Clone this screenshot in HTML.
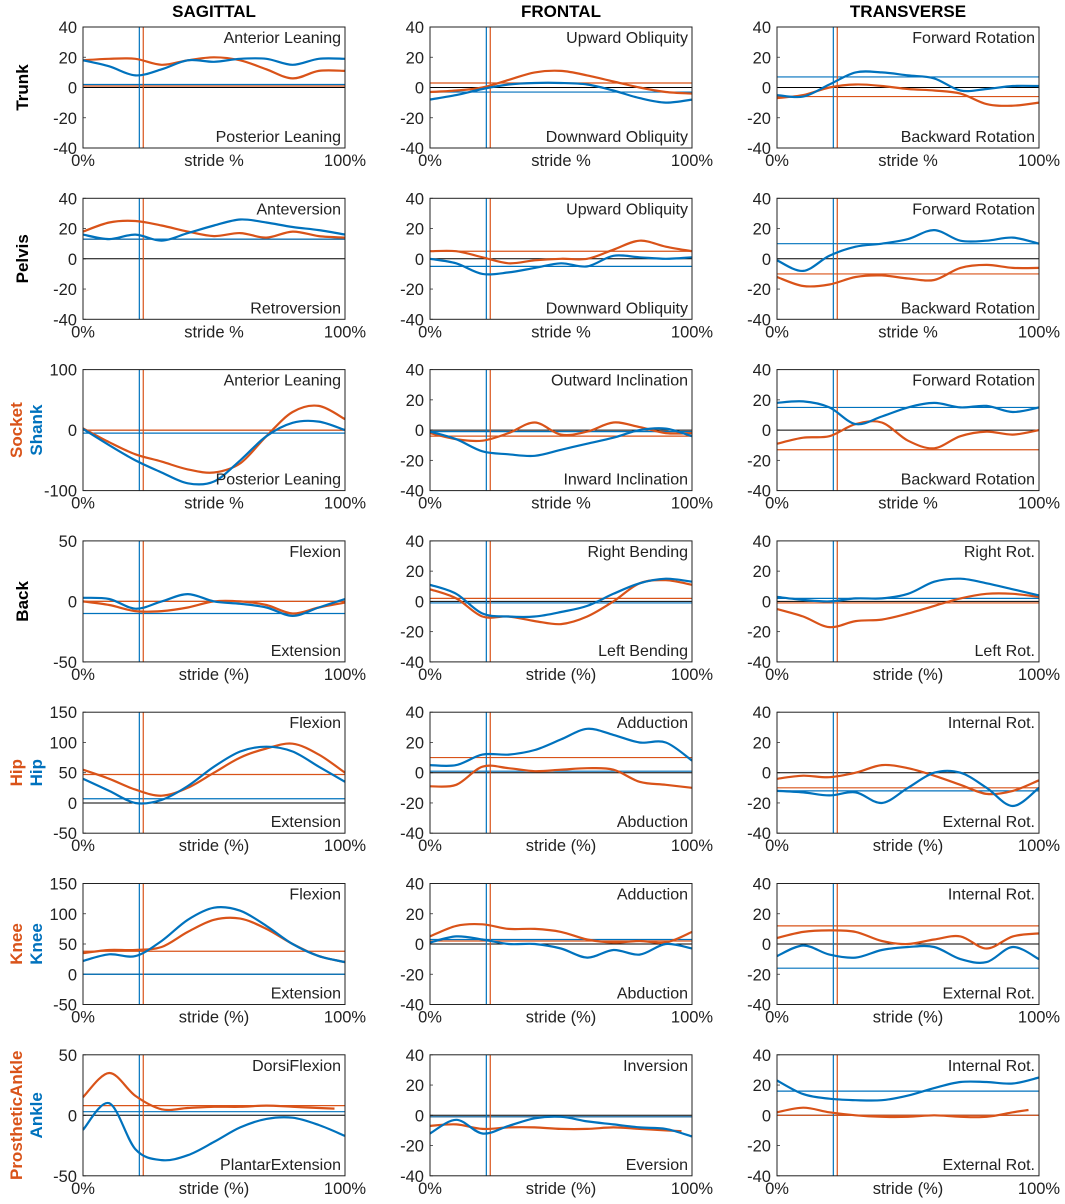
<!DOCTYPE html>
<html><head><meta charset="utf-8"><style>
html,body{margin:0;padding:0;background:#fff;}
svg{display:block;font-family:"Liberation Sans",Arial,sans-serif;}
</style></head><body>
<svg id="fig" width="1065" height="1204" viewBox="0 0 1065 1204" xmlns="http://www.w3.org/2000/svg"></svg>
<script>
const stridePct=[0,10,20,30,40,50,60,70,80,90,100];
const colHeaders=["SAGITTAL","FRONTAL","TRANSVERSE"];
const eventPct=[21.5,23];
// row 1 trunk
const trunkSagRed=[18,19,19,15,18,20,18,12,6,11,11];
const trunkSagBlue=[18,14,8,12,18,17,19,19,15,19,19];
const trunkFroRed=[-3,-2,0,5,10,11,8,4,0,-3,-4];
const trunkFroBlue=[-8,-5,-1,2,3,3,2,-2,-7,-10,-8];
const trunkTraRed=[-7,-5,0,2,1,-1,-2,-4,-11,-12,-10];
const trunkTraBlue=[-5,-6,2,10,10,8,6,-2,-1,1,1];
// row 2 pelvis
const pelvisSagRed=[18,24,25,22,18,15,17,14,18,15,14];
const pelvisSagBlue=[16,13,16,12,17,22,26,24,21,19,16];
const pelvisFroRed=[5,5,1,-3,-1,0,0,6,12,8,5];
const pelvisFroBlue=[0,-3,-10,-9,-6,-3,-5,2,1,0,1];
const pelvisTraRed=[-12,-18,-17,-12,-11,-13,-14,-6,-4,-6,-6];
const pelvisTraBlue=[-1,-8,2,8,10,13,19,12,12,14,10];
// row 3 socket/shank
const shankSagRed=[3,-20,-40,-52,-65,-70,-55,-10,30,40,18];
const shankSagBlue=[2,-25,-50,-70,-88,-85,-50,-10,12,14,0];
const shankFroRed=[-2,-6,-7,-2,5,-3,-1,5,2,-2,-2];
const shankFroBlue=[-1,-6,-14,-16,-17,-13,-9,-5,0,1,-4];
const shankTraRed=[-9,-5,-4,4,5,-7,-12,-4,-1,-3,0];
const shankTraBlue=[18,19,15,4,9,15,18,15,16,12,15];
// row 4 back
const backSagRed=[0,-3,-8,-8,-5,0,0,-3,-10,-5,-1];
const backSagBlue=[3,2,-6,0,6,0,-2,-5,-12,-5,2];
const backFroRed=[8,2,-10,-10,-13,-15,-10,0,12,14,11];
const backFroBlue=[11,5,-8,-10,-10,-7,-3,5,12,15,13];
const backTraRed=[-5,-10,-17,-13,-12,-8,-3,2,5,5,3];
const backTraBlue=[3,1,0,2,2,5,13,15,12,8,4];
// row 5 hip
const hipSagRed=[55,40,22,12,25,50,75,90,98,80,50];
const hipSagBlue=[40,20,0,5,28,60,85,93,85,60,35];
const hipFroRed=[-9,-8,4,3,1,2,3,2,-6,-8,-10];
const hipFroBlue=[5,5,12,12,15,22,29,25,20,20,8];
const hipTraRed=[-4,-2,-3,0,5,3,-2,-8,-14,-12,-5];
const hipTraBlue=[-12,-13,-15,-13,-20,-10,0,0,-10,-22,-10];
// row 6 knee
const kneeSagRed=[35,40,40,45,70,90,92,75,50,30,20];
const kneeSagBlue=[22,33,30,55,90,110,105,80,50,30,20];
const kneeFroRed=[5,12,13,10,10,8,3,1,2,1,8];
const kneeFroBlue=[1,5,3,0,0,-3,-9,-4,-7,0,-3];
const kneeTraRed=[4,8,9,8,2,0,3,5,-3,5,7];
const kneeTraBlue=[-8,-1,-7,-9,-4,-2,-2,-10,-12,-2,-10];
// row 7 ankle
const ankleSagRed=[15,35,16,5,6,7,7,8,7,6,null];
const ankleSagBlue=[-12,10,-28,-37,-33,-22,-10,-3,-2,-8,-17];
const ankleFroRed=[-7,-6,-9,-8,-8,-9,-9,-8,-9,-10,null];
const ankleFroBlue=[-12,-3,-12,-7,-2,-1,-4,-6,-8,-9,-14];
const ankleTraRed=[2,5,2,0,-1,-1,0,-1,-1,2,null];
const ankleTraBlue=[23,14,11,10,10,13,18,22,22,21,25];
// mean reference lines [red, blue]
const meanLines=[
 [[1,2],[3,-3],[-6,7]],
 [[13,13],[5,-5],[-10,10]],
 [[0,-5],[-4,-1],[-13,15]],
 [[0,-10],[2,-1],[-1,2]],
 [[47,7],[10,1],[-10,-12]],
 [[38,0],[2,3],[12,-16]],
 [[8,3],[-1,-1],[0,16]]
];
const series=[
 [[trunkSagRed,trunkSagBlue],[trunkFroRed,trunkFroBlue],[trunkTraRed,trunkTraBlue]],
 [[pelvisSagRed,pelvisSagBlue],[pelvisFroRed,pelvisFroBlue],[pelvisTraRed,pelvisTraBlue]],
 [[shankSagRed,shankSagBlue],[shankFroRed,shankFroBlue],[shankTraRed,shankTraBlue]],
 [[backSagRed,backSagBlue],[backFroRed,backFroBlue],[backTraRed,backTraBlue]],
 [[hipSagRed,hipSagBlue],[hipFroRed,hipFroBlue],[hipTraRed,hipTraBlue]],
 [[kneeSagRed,kneeSagBlue],[kneeFroRed,kneeFroBlue],[kneeTraRed,kneeTraBlue]],
 [[ankleSagRed,ankleSagBlue],[ankleFroRed,ankleFroBlue],[ankleTraRed,ankleTraBlue]]
];
const T40=[-40,-20,0,20,40];
const yTicks=[
 [T40,T40,T40],[T40,T40,T40],[[-100,0,100],T40,T40],[[-50,0,50],T40,T40],
 [[-50,0,50,100,150],T40,T40],[[-50,0,50,100,150],T40,T40],[[-50,0,50],T40,T40]
];
const rowLabels=[["Trunk"],["Pelvis"],["Socket","Shank"],["Back"],["Hip","Hip"],["Knee","Knee"],["ProstheticAnkle","Ankle"]];
const topNotes=[
 ["Anterior Leaning","Upward Obliquity","Forward Rotation"],
 ["Anteversion","Upward Obliquity","Forward Rotation"],
 ["Anterior Leaning","Outward Inclination","Forward Rotation"],
 ["Flexion","Right Bending","Right Rot."],
 ["Flexion","Adduction","Internal Rot."],
 ["Flexion","Adduction","Internal Rot."],
 ["DorsiFlexion","Inversion","Internal Rot."]
];
const bottomNotes=[
 ["Posterior Leaning","Downward Obliquity","Backward Rotation"],
 ["Retroversion","Downward Obliquity","Backward Rotation"],
 ["Posterior Leaning","Inward Inclination","Backward Rotation"],
 ["Extension","Left Bending","Left Rot."],
 ["Extension","Abduction","External Rot."],
 ["Extension","Abduction","External Rot."],
 ["PlantarExtension","Eversion","External Rot."]
];
const xLabelTexts=["stride %","stride %","stride %","stride (%)","stride (%)","stride (%)","stride (%)"];

const RED="#D95319",BLUE="#0072BD";
const svg=document.getElementById('fig');
const NS="http://www.w3.org/2000/svg";
function mk(tag,attrs,parent){const e=document.createElementNS(NS,tag);for(const k in attrs)e.setAttribute(k,attrs[k]);(parent||svg).appendChild(e);return e;}
const colX=[83,430,777],W=262,rowY0=27,rowPitch=171.3,H=121;

function smoothPath(pts){
  if(pts.length<2)return "";
  let d="M"+pts[0][0].toFixed(1)+","+pts[0][1].toFixed(1);
  for(let i=0;i<pts.length-1;i++){
    const p0=pts[Math.max(0,i-1)],p1=pts[i],p2=pts[i+1],p3=pts[Math.min(pts.length-1,i+2)];
    const c1=[p1[0]+(p2[0]-p0[0])/6,p1[1]+(p2[1]-p0[1])/6];
    const c2=[p2[0]-(p3[0]-p1[0])/6,p2[1]-(p3[1]-p1[1])/6];
    d+=" C"+c1[0].toFixed(1)+","+c1[1].toFixed(1)+" "+c2[0].toFixed(1)+","+c2[1].toFixed(1)+" "+p2[0].toFixed(1)+","+p2[1].toFixed(1);
  }
  return d;
}

colHeaders.forEach((h,c)=>{
  const t=mk('text',{x:colX[c]+W/2,y:17,'text-anchor':'middle','font-size':17,'font-weight':'bold',fill:'#000'});
  t.textContent=h;
  
  
});

for(let r=0;r<7;r++){
  const top=rowY0+r*rowPitch;
  const labs=rowLabels[r];
  const cy=top+H/2;
  const lg=mk('text',{transform:`translate(${labs.length>1?22:28},${cy}) rotate(-90)`,'text-anchor':'middle','font-size':17,'font-weight':'bold'});
  
  
  if(labs.length===1){lg.textContent=labs[0];lg.setAttribute('fill','#000');}
  else{
    const a=mk('tspan',{fill:RED,x:0,y:0},lg);a.textContent=labs[0];
    const b=mk('text',{transform:`translate(42,${cy}) rotate(-90)`,'text-anchor':'middle','font-size':17,'font-weight':'bold',fill:BLUE});
    b.textContent=labs[1];
    
    
  }
  for(let c=0;c<3;c++){
    const x0=colX[c];
    const ticks=yTicks[r][c];
    const ymin=ticks[0],ymax=ticks[ticks.length-1];
    const sx=p=>x0+p/100*W;
    const sy=v=>top+(ymax-v)/(ymax-ymin)*H;
    const g=mk('g',{});
    
    
    ticks.forEach(tv=>{
      const t=mk('text',{x:x0-6,y:sy(tv)+6,'text-anchor':'end','font-size':16.5,fill:'#222'},g);
      t.textContent=tv;
      
      
      mk('line',{x1:x0,x2:x0+3,y1:sy(tv),y2:sy(tv),stroke:'#333','stroke-width':0.8},g);
    });
    [["0%",x0],[xLabelTexts[r],x0+W/2],["100%",x0+W]].forEach(([s,x])=>{
      const t=mk('text',{x:x,y:top+H+18,'text-anchor':'middle','font-size':16.5,fill:'#222'},g);
      t.textContent=s;
      
      
    });
    const z=mk('line',{x1:x0,x2:x0+W,y1:sy(0),y2:sy(0),stroke:'#000','stroke-width':1},g);
    
    
    const ml=meanLines[r][c];
    [[ml[0],RED],[ml[1],BLUE]].forEach(([v,col])=>{
      const l=mk('line',{x1:x0,x2:x0+W,y1:sy(v),y2:sy(v),stroke:col,'stroke-width':1.2},g);
      
      
    });
    [[eventPct[0],BLUE],[eventPct[1],RED]].forEach(([p,col])=>{
      const l=mk('line',{x1:sx(p),x2:sx(p),y1:top,y2:top+H,stroke:col,'stroke-width':1.2},g);
      
      
    });
    const [red,blue]=series[r][c];
    [[red,RED,'red-series'],[blue,BLUE,'blue-series']].forEach(([arr,col,nm])=>{
      const pts=[];
      arr.forEach((v,i)=>{if(v!==null)pts.push([sx(stridePct[i]),sy(v)]);});
      if(arr[arr.length-1]===null&&pts.length){
        const last=pts[pts.length-1];pts.push([sx(96),last[1]+ (sy(arr[arr.length-2])-sy(arr[arr.length-3]))*0.5]);
      }
      const p=mk('path',{d:smoothPath(pts),fill:'none',stroke:col,'stroke-width':2.2,'stroke-linejoin':'round'},g);
      
      
    });
    const b=mk('rect',{x:x0,y:top,width:W,height:H,fill:'none',stroke:'#222','stroke-width':1},g);
    
    
    const tn=mk('text',{x:x0+W-4,y:top+16,'text-anchor':'end','font-size':16,fill:'#222'},g);
    tn.textContent=topNotes[r][c];
    
    
    const bn=mk('text',{x:x0+W-4,y:top+H-6,'text-anchor':'end','font-size':16,fill:'#222'},g);
    bn.textContent=bottomNotes[r][c];
    
    
  }
}
</script>
</body></html>
